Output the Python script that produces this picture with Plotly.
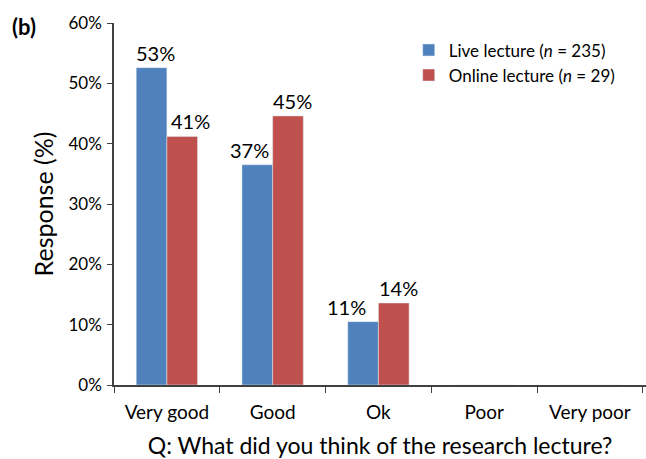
import plotly.graph_objects as go

categories = ["Very good", "Good", "Ok", "Poor", "Very poor"]
live = [0.526, 0.365, 0.105, 0, 0]
online = [0.412, 0.446, 0.136, 0, 0]
live_labels = ["53%", "37%", "11%", "", ""]
online_labels = ["41%", "45%", "14%", "", ""]
y_ticks = [0, 0.1, 0.2, 0.3, 0.4, 0.5, 0.6]
y_ticktext = ["0%", "10%", "20%", "30%", "40%", "50%", "60%"]

# label horizontal nudges (pixels), style only
live_shift = [4, -8, -16, 0, 0]
online_shift = [8, 4, 5, 0, 0]

FONT = "Lato, Open Sans, sans-serif"
BAR_HALF = 15.5
fig = go.Figure()
fig.add_bar(x=categories, y=live, name="Live lecture (<i>n</i> = 235)",
            marker_color="#4F81BD")
fig.add_bar(x=categories, y=online, name="Online lecture (<i>n</i> = 29)",
            marker_color="#C0504D")

for cat, val, lab, sh in zip(categories, live, live_labels, live_shift):
    if lab:
        fig.add_annotation(x=cat, y=val, text=lab, showarrow=False, yanchor="bottom",
                           xshift=-BAR_HALF + sh, yshift=1, font=dict(size=20, color="black"))
for cat, val, lab, sh in zip(categories, online, online_labels, online_shift):
    if lab:
        fig.add_annotation(x=cat, y=val, text=lab, showarrow=False, yanchor="bottom",
                           xshift=BAR_HALF + sh, yshift=1, font=dict(size=20, color="black"))

fig.update_layout(
    width=646, height=459,
    margin=dict(l=114, r=0, t=23, b=74),
    paper_bgcolor="white", plot_bgcolor="white",
    font=dict(family=FONT, color="black"),
    barmode="group", bargap=0.42, bargroupgap=0,
    showlegend=True,
    legend=dict(x=0.554, y=0.974, xanchor="left", yanchor="top",
                font=dict(size=17), bgcolor="rgba(0,0,0,0)", tracegroupgap=10),
    xaxis=dict(range=[-0.5, 4.53], showline=True, linecolor="#404040", linewidth=1.5,
               ticks="outside", tickson="boundaries", ticklen=6, tickcolor="#404040",
               tickfont=dict(size=19), showgrid=False, automargin=False,
               ticklabelstandoff=9,
               title=dict(text="Q: What did you think of the research lecture?",
                          font=dict(size=23), standoff=17)),
    yaxis=dict(range=[0, 0.6], tickvals=y_ticks, ticktext=y_ticktext,
               showline=True, linecolor="#404040", linewidth=1.5,
               ticks="outside", ticklen=5, tickcolor="#404040",
               tickfont=dict(size=17), showgrid=False, zeroline=False, automargin=False,
               ticklabelstandoff=2,
               title=dict(text="Response (%)", font=dict(size=25), standoff=8)),
)
fig.add_annotation(text="<b>(b)</b>", xref="paper", yref="paper",
                   x=-0.195, y=0.99, xanchor="left", yanchor="middle",
                   showarrow=False, font=dict(size=22))
fig.write_html("out.html", config={"displayModeBar": False},
               post_script="document.body.style.margin='0';document.body.style.padding='0';")
